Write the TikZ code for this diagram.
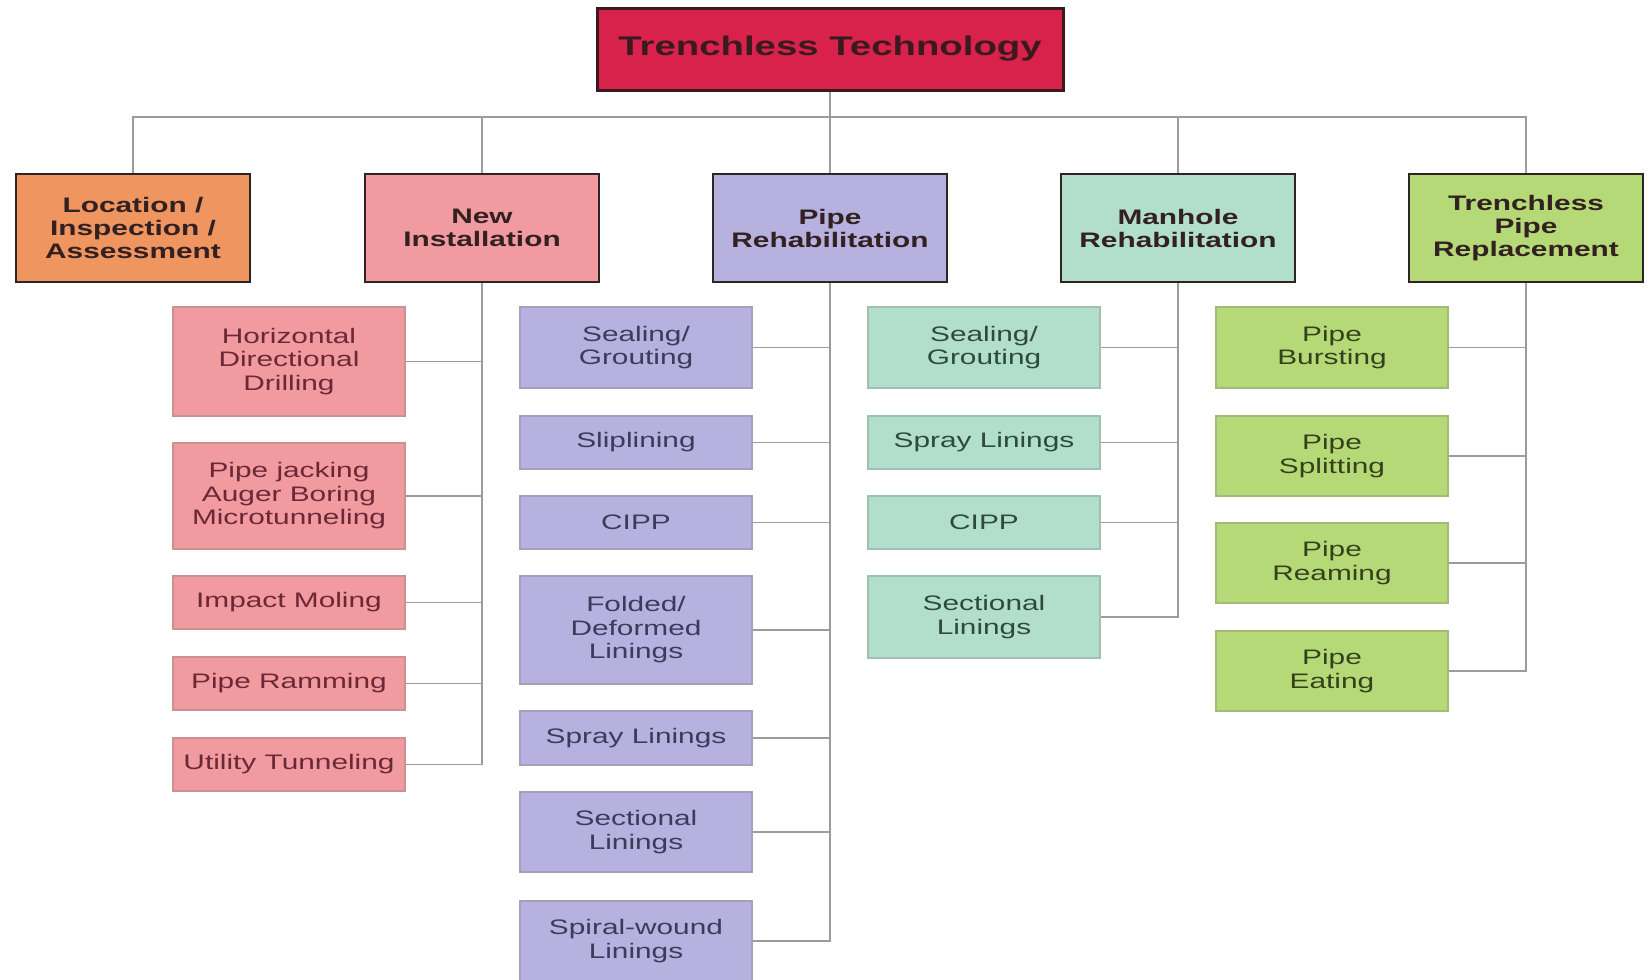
\documentclass[tikz,border=0pt]{standalone}
\usepackage{fontspec}
\setmainfont{Liberation Sans}[FakeStretch=1.42]

\definecolor{rootred}{HTML}{D8224C}
\definecolor{rootedge}{HTML}{3A1A1E}
\definecolor{headedge}{HTML}{2E2424}
\definecolor{headtext}{HTML}{332020}
\definecolor{locorange}{HTML}{EE9560}
\definecolor{nipink}{HTML}{F19A9F}
\definecolor{prlav}{HTML}{B6B1DE}
\definecolor{mrmint}{HTML}{B2DFCB}
\definecolor{tprlime}{HTML}{B6D977}
\definecolor{linegray}{HTML}{9C9C9C}
\definecolor{nitext}{HTML}{6B2836}
\definecolor{prtext}{HTML}{3D3A5C}
\definecolor{mrtext}{HTML}{2E4A40}
\definecolor{tprtext}{HTML}{34421C}

\begin{document}
\begin{tikzpicture}[x=1pt,y=-1pt,
    conn/.style={draw=linegray,line width=1.8pt},
    topbox/.style={draw=rootedge,line width=3pt,fill=rootred,minimum width=466pt,
        minimum height=82pt,inner sep=0pt,text=rootedge,
        font=\fontsize{27}{30}\selectfont\bfseries},
    headbox/.style={draw=headedge,line width=2.5pt,minimum width=234pt,minimum height=108pt,
        align=center,inner sep=0pt,text=headtext,font=\fontsize{21}{23}\selectfont\bfseries},
    itembox/.style={line width=1.5pt,minimum width=232pt,align=center,inner sep=0pt,
        font=\fontsize{21}{23.5}\selectfont},
    niitem/.style={itembox,fill=nipink,draw=nipink!65!gray,text=nitext},
    pritem/.style={itembox,fill=prlav,draw=prlav!65!gray,text=prtext},
    mritem/.style={itembox,fill=mrmint,draw=mrmint!65!gray,text=mrtext},
    tpritem/.style={itembox,fill=tprlime,draw=tprlime!65!gray,text=tprtext}]

    \useasboundingbox (0,0) rectangle (1650,980);
    \fill[white] (0,0) rectangle (1650,980);

    % top of the tree
    \node[topbox] (root) at (830,49) {Trenchless Technology};
    \coordinate (bus) at (830,117);

    \node[headbox,fill=locorange] (loc) at (133,228) {Location /\\Inspection /\\Assessment};
    \node[headbox,fill=nipink] (ni) at (482,228) {New\\Installation};
    \node[headbox,fill=prlav] (pr) at (830,228) {Pipe\\Rehabilitation};
    \node[headbox,fill=mrmint] (mr) at (1178,228) {Manhole\\Rehabilitation};
    \node[headbox,fill=tprlime] (tpr) at (1526,228) {Trenchless\\Pipe\\Replacement};

    % new installation
    \node[niitem,minimum height=109pt] (hdd) at (289,361.5) {Horizontal\\Directional\\Drilling};
    \node[niitem,minimum height=106pt] (jack) at (289,496) {Pipe jacking\\Auger Boring\\Microtunneling};
    \node[niitem,minimum height=53pt] (mole) at (289,602.5) {Impact Moling};
    \node[niitem,minimum height=53pt] (ram) at (289,683.5) {Pipe Ramming};
    \node[niitem,minimum height=53pt] (util) at (289,764.5) {Utility Tunneling};

    % pipe rehabilitation
    \node[pritem,minimum height=81pt] (prseal) at (636,347.5) {Sealing/\\Grouting};
    \node[pritem,minimum height=53pt] (slip) at (636,442.5) {Sliplining};
    \node[pritem,minimum height=53pt] (prcipp) at (636,522.5) {CIPP};
    \node[pritem,minimum height=108pt] (fold) at (636,630) {Folded/\\Deformed\\Linings};
    \node[pritem,minimum height=54pt] (prspray) at (636,738) {Spray Linings};
    \node[pritem,minimum height=80pt] (prsect) at (636,832) {Sectional\\Linings};
    \node[pritem,minimum height=80pt] (spiral) at (636,941) {Spiral-wound\\Linings};

    % manhole rehabilitation
    \node[mritem,minimum height=81pt] (mrseal) at (984,347.5) {Sealing/\\Grouting};
    \node[mritem,minimum height=53pt] (mrspray) at (984,442.5) {Spray Linings};
    \node[mritem,minimum height=53pt] (mrcipp) at (984,522.5) {CIPP};
    \node[mritem,minimum height=82pt] (mrsect) at (984,617) {Sectional\\Linings};

    % trenchless pipe replacement
    \node[tpritem,minimum height=81pt] (burst) at (1332,347.5) {Pipe\\Bursting};
    \node[tpritem,minimum height=80pt] (split) at (1332,456) {Pipe\\Splitting};
    \node[tpritem,minimum height=80pt] (ream) at (1332,563) {Pipe\\Reaming};
    \node[tpritem,minimum height=80pt] (eat) at (1332,671) {Pipe\\Eating};

    % connectors
    \draw[conn] (root.south) -- (root.south |- bus);
    \draw[conn] (loc.north) |- (bus) -| (tpr.north);
    \draw[conn] (ni.north) -- (ni.north |- bus);
    \draw[conn] (pr.north) -- (pr.north |- bus);
    \draw[conn] (mr.north) -- (mr.north |- bus);

    \foreach \c in {hdd,jack,mole,ram,util}
        \draw[conn] (\c.east) -| (ni.south);
    \foreach \c in {prseal,slip,prcipp,fold,prspray,prsect,spiral}
        \draw[conn] (\c.east) -| (pr.south);
    \foreach \c in {mrseal,mrspray,mrcipp,mrsect}
        \draw[conn] (\c.east) -| (mr.south);
    \foreach \c in {burst,split,ream,eat}
        \draw[conn] (\c.east) -| (tpr.south);
\end{tikzpicture}
\end{document}
